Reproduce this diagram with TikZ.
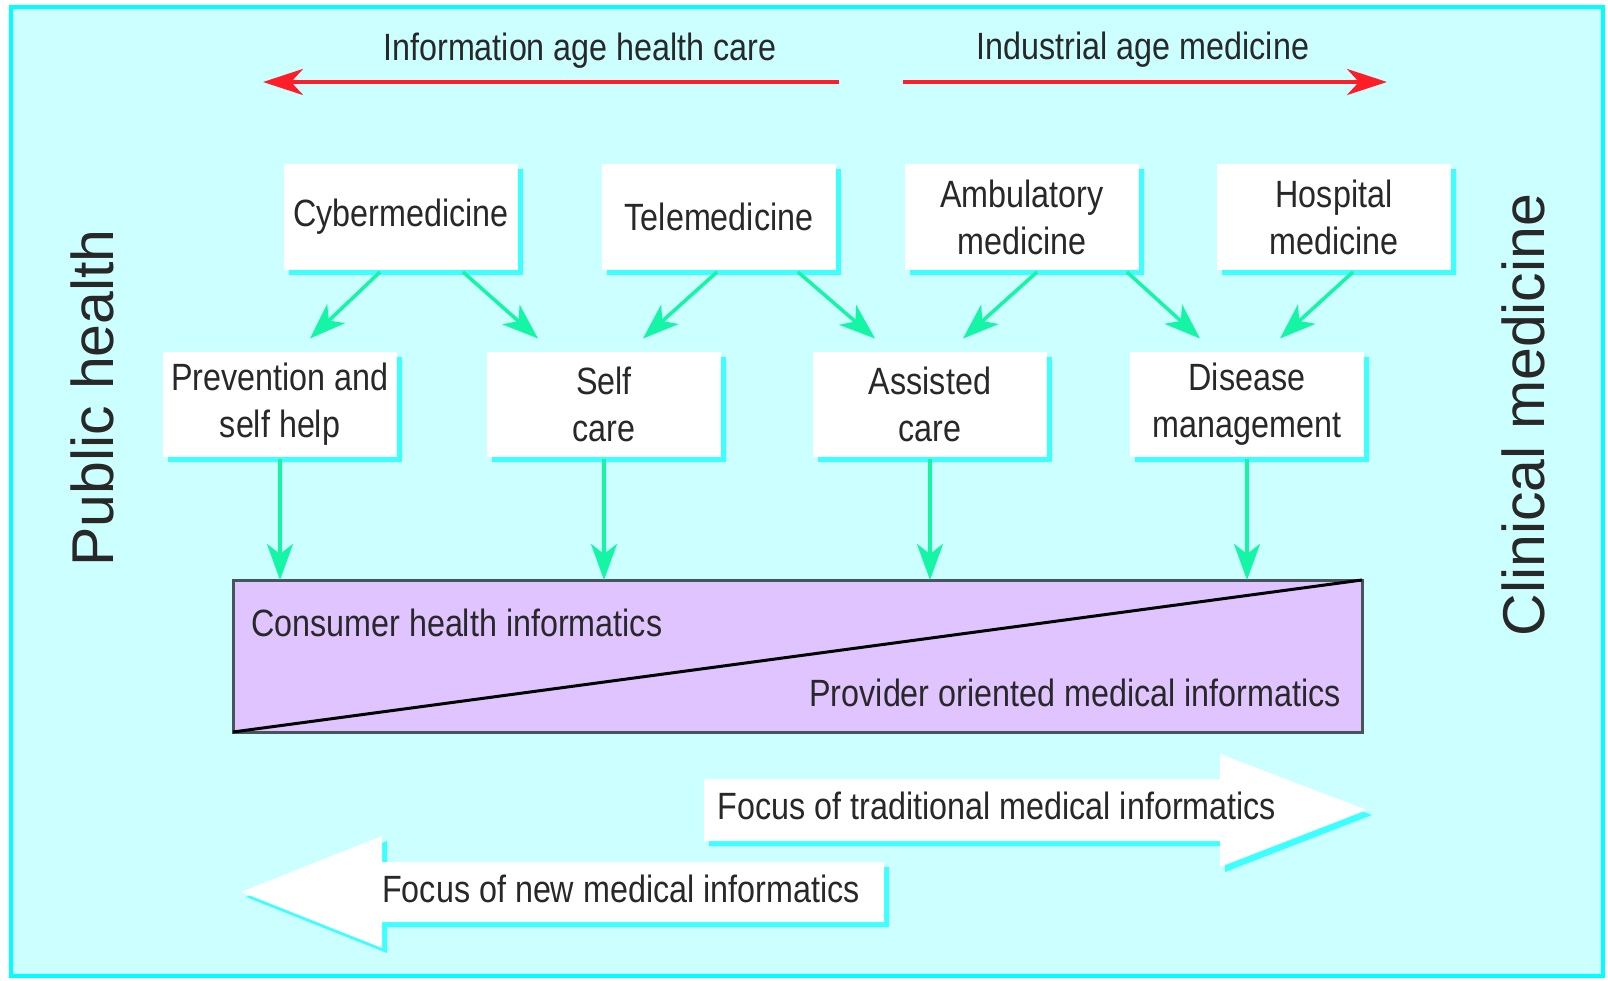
\documentclass[tikz,border=0pt]{standalone}
\usepackage{fontspec}
\setmainfont{Liberation Sans}[FakeStretch=0.85]
\newfontfamily\sidefont{Liberation Sans}
\usepackage{tikz}
\usetikzlibrary{arrows.meta}
\usetikzlibrary{shadows}
\definecolor{bgcyan}{RGB}{204,255,255}
\definecolor{framecyan}{RGB}{0,255,255}
\definecolor{shadowcyan}{RGB}{60,255,255}
\definecolor{flowgreen}{RGB}{20,245,165}
\definecolor{agered}{RGB}{255,30,40}
\definecolor{infopurple}{RGB}{224,196,255}
\definecolor{infoborder}{RGB}{70,85,90}
\definecolor{textgray}{RGB}{40,40,40}
\tikzset{>=stealth}
\tikzset{
  every node/.style={text=textgray, font=\fontsize{38}{47}\selectfont},
  cyanshadow/.style={drop shadow={shadow xshift=5pt, shadow yshift=-5pt, fill=shadowcyan, opacity=1}},
  box/.style={fill=white, minimum width=234pt, minimum height=106pt, align=center, inner sep=0pt, outer sep=0pt, cyanshadow},
  flow/.style={-{Stealth[length=36pt,width=26pt,inset=10pt]}, line width=3.5pt, flowgreen},
  age/.style={-{Stealth[length=40pt,width=26pt,inset=12pt]}, line width=4pt, agered},
  side/.style={rotate=90, font=\sidefont\fontsize{59}{70}\selectfont},
}

\begin{document}
\begin{tikzpicture}[x=1pt,y=-1pt]
        \useasboundingbox (0,0) rectangle (1608,981);
        \fill[white] (0,0) rectangle (1608,981);
        \draw[framecyan, line width=4pt, fill=bgcyan] (11,7) rectangle (1603,976);
        % top labels
        \node (infoage) at (580,51) {Information age health care};
        \node (industrial) at (1143,50) {Industrial age medicine};
        \coordinate (infotail) at (839,82);
        \coordinate (infotip) at (263,82);
        \coordinate (indtail) at (903,82);
        \coordinate (indtip) at (1387,82);
        \draw[age] (infotail) -- (infotip);
        \draw[age] (indtail) -- (indtip);
        % side labels
        \node[side] (public) at (92,398) {Public health};
        \node[side] (clinical) at (1523,415) {Clinical medicine};
        % boxes
        \node[box] (cyber) at (401,217) {Cybermedicine};
        \node[box] (tele) at (719,217) {Telemedicine};
        \node[box] (ambu) at (1022,217) {Ambulatory\\medicine};
        \node[box] (hosp) at (1334,217) {Hospital\\medicine};
        \node[box, minimum height=105pt] (prev) at (280,404) {Prevention and\\self help};
        \node[box, minimum height=105pt] (self) at (604,404) {Self\\care};
        \node[box, minimum height=105pt] (assist) at (930,404) {Assisted\\care};
        \node[box, minimum height=105pt] (disease) at (1247,404) {Disease\\management};
        \draw[flow] ([xshift=-21pt,yshift=-2pt]cyber.south) -- ([xshift=30pt,yshift=13pt]prev.north);
        \draw[flow] ([xshift=62pt,yshift=-2pt]cyber.south) -- ([xshift=-66pt,yshift=13pt]self.north);
        \draw[flow] ([xshift=-2pt,yshift=-2pt]tele.south) -- ([xshift=39pt,yshift=13pt]self.north);
        \draw[flow] ([xshift=79pt,yshift=-2pt]tele.south) -- ([xshift=-55pt,yshift=13pt]assist.north);
        \draw[flow] ([xshift=15pt,yshift=-2pt]ambu.south) -- ([xshift=33pt,yshift=13pt]assist.north);
        \draw[flow] ([xshift=105pt,yshift=-2pt]ambu.south) -- ([xshift=-47pt,yshift=13pt]disease.north);
        \draw[flow] ([xshift=19pt,yshift=-2pt]hosp.south) -- ([xshift=33pt,yshift=13pt]disease.north);
        % informatics
        \node[draw=infoborder, line width=3pt, fill=infopurple, minimum width=1129pt, minimum height=152pt, inner sep=0pt, outer sep=0pt] (informatics) at (797.5,656) {};
        \draw[line width=3pt, black] (informatics.south west) -- (informatics.north east);
        \node[anchor=west, inner sep=0pt] (consumer) at ([xshift=18pt,yshift=-43pt]informatics.north west) {Consumer health informatics};
        \node[anchor=east, inner sep=0pt] (provider) at ([xshift=-21pt,yshift=39pt]informatics.south east) {Provider oriented medical informatics};
        \foreach \b in {prev,self,assist,disease}
          \draw[flow] ([yshift=-2pt]\b.south) -- (\b.south |- informatics.north);
        % focus arrows
        \path[fill=white, cyanshadow] (704,779) -- (1220,779) -- (1220,754) -- (1367,810) -- (1220,867) -- (1220,841) -- (704,841) -- cycle;
        \node (oldfocus) at (997,806) {Focus of traditional medical informatics};
        \path[fill=white, cyanshadow] (884,862) -- (382,862) -- (382,836) -- (241,892) -- (382,948) -- (382,922) -- (884,922) -- cycle;
        \node (newfocus) at (621,889) {Focus of new medical informatics};
      \end{tikzpicture}
\end{document}
